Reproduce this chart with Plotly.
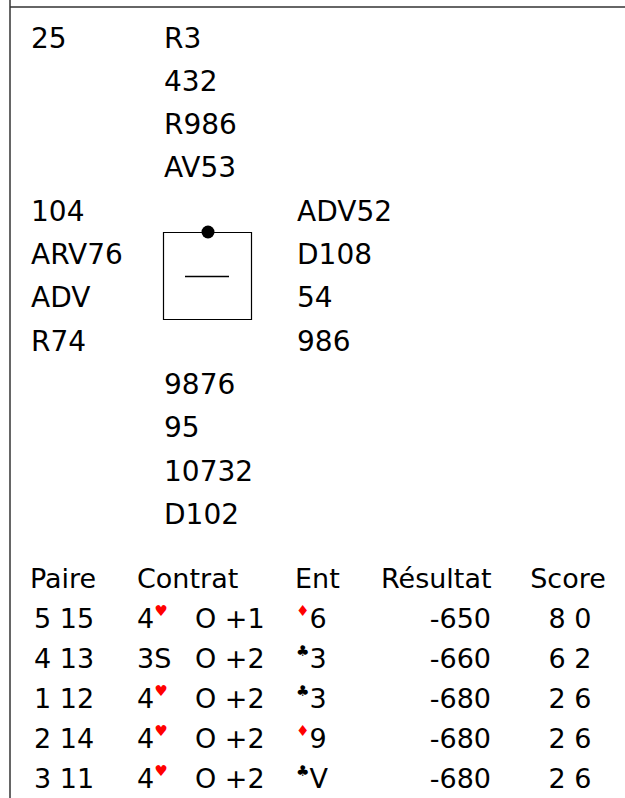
import plotly.graph_objects as go

# ---- data ----
board = "25"
north = ["R3", "432", "R986", "AV53"]
west = ["104", "ARV76", "ADV", "R74"]
east = ["ADV52", "D108", "54", "986"]
south = ["9876", "95", "10732", "D102"]

headers = ["Paire", "Contrat", "Ent", "Résultat", "Score"]
pairs = ["5 15", "4 13", "1 12", "2 14", "3 11"]
contract_level = ["4", "3", "4", "4", "4"]
contract_strain = ["H", "S", "H", "H", "H"]
declarer = ["O", "O", "O", "O", "O"]
overtricks = ["+1", "+2", "+2", "+2", "+2"]
lead_suit = ["D", "C", "C", "D", "C"]
lead_card = ["6", "3", "3", "9", "V"]
results = [-650, -660, -680, -680, -680]
scores = ["8 0", "6 2", "2 6", "2 6", "2 6"]

FONT = "Comic Sans MS, DejaVu Sans, sans-serif"
FS = 28
TFS = 27
W, H = 625, 798

SUIT_SYM = {"H": "♥", "D": "♦", "C": "♣", "S": "♠"}
SUIT_COL = {"H": "red", "D": "red", "C": "black", "S": "black"}


def small_suit(s):
    return ("<sup><span style='color:%s;font-size:15px'>%s</span></sup>"
            % (SUIT_COL[s], SUIT_SYM[s]))


def contract_text(level, strain):
    if strain == "S":
        return level + "S"
    return level + small_suit(strain)


fig = go.Figure()


def add_text(xs, ys, texts, pos="middle right", size=FS):
    fig.add_trace(go.Scatter(
        x=xs, y=ys, text=texts, mode="text", textposition=pos,
        textfont=dict(family=FONT, size=size, color="black"),
        hoverinfo="skip", showlegend=False))


hand_y0, hand_dy = 40.5, 43.3
row = lambda k: hand_y0 + hand_dy * k

add_text([31], [row(0)], [board])
add_text([164] * 4, [row(k) for k in range(4)], north)
add_text([31] * 4, [row(k) for k in range(4, 8)], west)
add_text([297] * 4, [row(k) for k in range(4, 8)], east)
add_text([164] * 4, [row(k) for k in range(8, 12)], south)

ty0, tdy = 581, 40
trow = lambda k: ty0 + tdy * k

# headers
add_text([30, 137, 295, 381], [trow(0)] * 4, headers[:4], size=TFS)
add_text([568], [trow(0)], [headers[4]], pos="middle center", size=TFS)

n = len(pairs)
ys = [trow(k + 1) for k in range(n)]
add_text([34] * n, ys, pairs, size=TFS)
add_text([137] * n, ys, [contract_text(l, s) for l, s in zip(contract_level, contract_strain)], size=TFS)
add_text([195] * n, ys, [d + " " + o for d, o in zip(declarer, overtricks)], size=TFS)
add_text([296] * n, ys, [small_suit(s) + c for s, c in zip(lead_suit, lead_card)], size=TFS)
add_text([491] * n, ys, [str(r) for r in results], pos="middle left", size=TFS)
add_text([570] * n, ys, scores, pos="middle center", size=TFS)

# frame lines
shapes = [
    dict(type="line", x0=10, x1=W, y0=7, y1=7, line=dict(color="#333", width=1.5)),
    dict(type="line", x0=10, x1=10, y0=0, y1=H, line=dict(color="#333", width=1.5)),
    dict(type="rect", x0=163.5, x1=251.5, y0=232.5, y1=319.5, line=dict(color="black", width=1.2)),
    dict(type="line", x0=185, x1=229, y0=276.5, y1=276.5, line=dict(color="black", width=1.5)),
    dict(type="circle", x0=201.5, x1=214.5, y0=225.5, y1=238.5,
         fillcolor="black", line=dict(color="black", width=0)),
]

fig.update_layout(
    width=W, height=H, margin=dict(l=0, r=0, t=0, b=0),
    paper_bgcolor="white", plot_bgcolor="white",
    xaxis=dict(range=[0, W], visible=False, fixedrange=True),
    yaxis=dict(range=[H, 0], visible=False, fixedrange=True),
    shapes=shapes,
)

fig.write_html("out.html",
               post_script="document.body.style.margin='0';document.body.style.overflow='hidden';",
               config={"displayModeBar": False})
